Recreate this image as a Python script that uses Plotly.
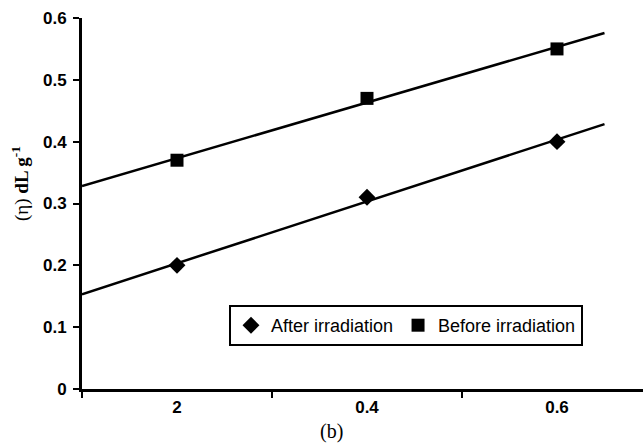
import numpy as np
import plotly.graph_objects as go

categories = ["2", "0.4", "0.6"]
after_irr = [0.20, 0.31, 0.40]
before_irr = [0.37, 0.47, 0.55]
y_ticks = [0, 0.1, 0.2, 0.3, 0.4, 0.5, 0.6]
y_ticktext = ["0", "0.1", "0.2", "0.3", "0.4", "0.5", "0.6"]

xpos = np.arange(1, len(categories) + 1)
trend_x = np.array([xpos[0] - 0.5, xpos[-1] + 0.25])

fig = go.Figure()

for vals in (after_irr, before_irr):
    m, c = np.polyfit(xpos, vals, 1)
    fig.add_trace(go.Scatter(x=trend_x, y=m * trend_x + c, mode="lines",
                             line=dict(color="black", width=2.5),
                             showlegend=False, hoverinfo="skip"))

fig.add_trace(go.Scatter(x=xpos, y=after_irr, mode="markers", name="After irradiation",
                         marker=dict(symbol="diamond", size=13, color="black")))
fig.add_trace(go.Scatter(x=xpos, y=before_irr, mode="markers", name="Before irradiation",
                         marker=dict(symbol="square", size=13, color="black")))

fig.update_layout(
    width=643, height=445,
    margin=dict(l=82, r=0, t=18, b=56),
    plot_bgcolor="white", paper_bgcolor="white",
    showlegend=True,
    legend=dict(orientation="h", x=0.262, y=0.2264, xanchor="left", yanchor="top",
                bordercolor="black", borderwidth=2, bgcolor="white",
                font=dict(family="Liberation Sans, Arial", size=18, color="black"),
                itemwidth=30),
    xaxis=dict(range=[0.5, 0.5 + 561 / 190], tickmode="array", tickvals=list(xpos),
               ticktext=categories, ticks="", showgrid=False, zeroline=False,
               showline=True, linecolor="black", linewidth=3,
               tickfont=dict(family="Liberation Sans, Arial", size=17, color="black", weight="bold"),
               minor=dict(tickmode="array", tickvals=[0.5, 1.5, 2.5], ticks="outside",
                          ticklen=6, tickwidth=2, tickcolor="black", showgrid=False),
               ticklabelstandoff=1),
    yaxis=dict(range=[0, 0.6], tickmode="array", tickvals=y_ticks, ticktext=y_ticktext,
               ticks="outside", ticklen=6, tickwidth=2, tickcolor="black",
               showgrid=False, zeroline=False, showline=True, linecolor="black", linewidth=3,
               tickfont=dict(family="Liberation Sans, Arial", size=17, color="black", weight="bold"),
               ticklabelstandoff=3),
    annotations=[
        dict(text="(η) <b>dL g<sup>-1</sup></b>", xref="paper", yref="paper",
             x=(20 - 82) / 561, y=(389 - 184) / 371, xanchor="center", yanchor="middle",
             textangle=-90, showarrow=False,
             font=dict(family="Liberation Serif, Times New Roman", size=19, color="black")),
        dict(text="(b)", xref="paper", yref="paper",
             x=(331 - 82) / 561, y=(389 - 432) / 371, xanchor="center", yanchor="middle",
             showarrow=False,
             font=dict(family="Liberation Serif, Times New Roman", size=20, color="black")),
    ],
)

fig.write_html("out.html", config={"displayModeBar": False},
               post_script="document.body.style.margin='0';document.body.style.overflow='hidden';")
